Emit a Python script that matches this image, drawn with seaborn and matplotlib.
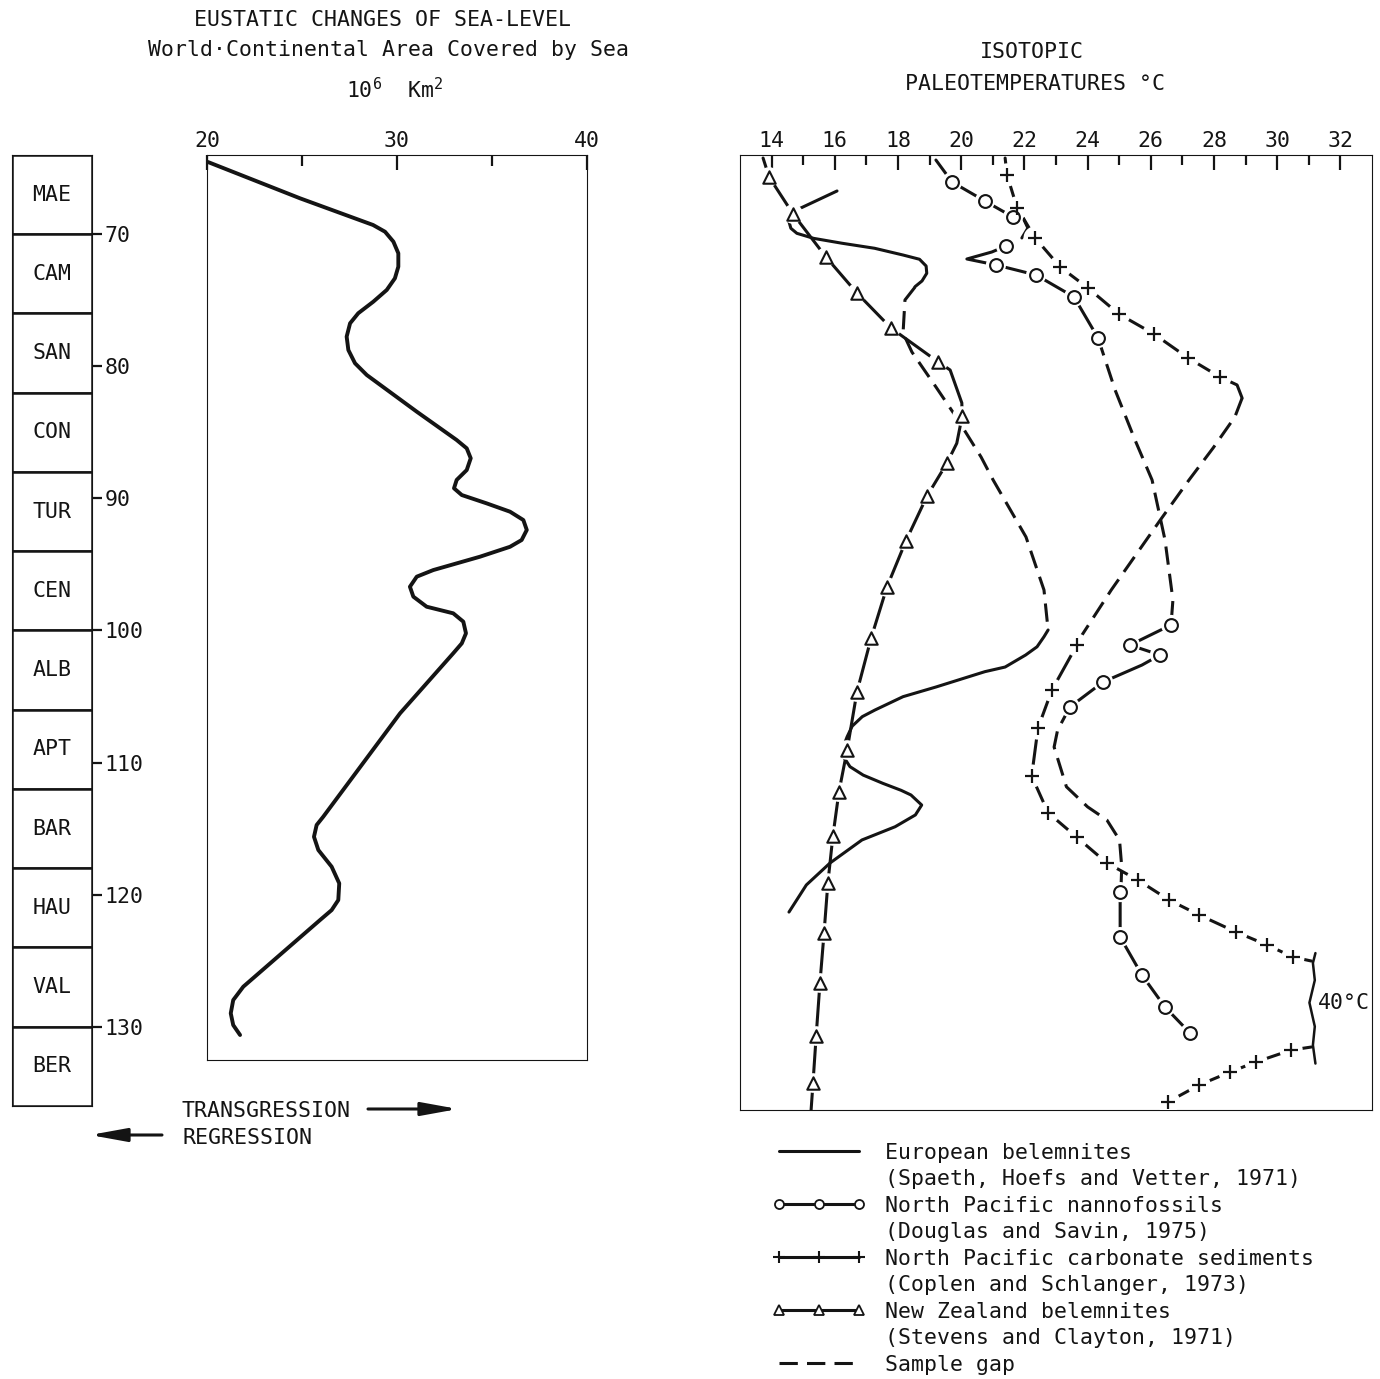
import matplotlib
matplotlib.use("Agg")
import matplotlib.pyplot as plt
from matplotlib.lines import Line2D
import seaborn as sns

# ---- stage column ----
stages = ["MAE", "CAM", "SAN", "CON", "TUR", "CEN", "ALB", "APT", "BAR", "HAU", "VAL", "BER"]
stage_top = [64, 70, 76, 82, 88, 94, 100, 106, 112, 118, 124, 130]
stage_len = 6
age_ticks = [70, 80, 90, 100, 110, 120, 130]

# ---- eustatic sea level (10^6 km2) vs age (Ma) ----
sea_area = [20.05, 24.89, 28.74, 29.37, 29.81, 30.07, 30.07, 29.89, 29.46, 28.75, 27.96,
            27.53, 27.35, 27.44, 27.79, 28.41, 31.04, 33.14, 33.67, 33.88, 33.67, 33.14,
            33.00, 33.41, 34.72, 35.95, 36.65, 36.83, 36.56, 35.95, 34.37, 31.91, 31.04,
            30.68, 30.86, 31.56, 32.96, 33.49, 33.63, 33.41, 32.96, 30.16, 26.12, 25.77,
            25.63, 25.86, 26.56, 26.96, 26.91, 26.56, 25.95, 21.91, 21.38, 21.25, 21.38,
            21.74]
sea_age = [64.56, 67.30, 69.32, 69.83, 70.58, 71.46, 72.47, 73.35, 74.23, 75.12, 75.99,
           76.75, 77.76, 78.77, 79.77, 80.66, 83.43, 85.57, 86.20, 86.95, 87.84, 88.59,
           89.22, 89.73, 90.36, 90.99, 91.62, 92.37, 93.13, 93.64, 94.39, 95.40, 95.90,
           96.66, 97.41, 98.17, 98.67, 99.30, 100.18, 100.94, 101.69, 106.23, 114.04, 114.67,
           115.56, 116.56, 117.82, 119.08, 120.34, 121.10, 121.85, 126.89, 127.90, 128.90, 129.79,
           130.54]

# ---- European belemnites (solid, with a sample gap) ----
eu1_T = [16.07, 14.68, 14.55, 14.61, 14.80, 15.33, 16.23, 17.26, 18.16, 18.68, 18.89, 18.91,
         18.76, 18.54]
eu1_age = [66.75, 68.31, 69.07, 69.57, 69.95, 70.33, 70.70, 71.08, 71.59, 71.91, 72.42, 72.97,
           73.55, 73.98]
eu_gap_T = [18.54, 18.22, 18.16, 18.44, 19.20, 19.84, 20.63, 21.01, 22.05, 22.62, 22.75]
eu_gap_age = [74.01, 74.99, 77.48, 78.92, 81.56, 83.83, 86.86, 88.59, 92.90, 96.91, 99.93]
eu2_T = [22.75, 22.62, 22.40, 22.04, 21.39, 20.75, 19.20, 18.16, 17.27, 16.87, 16.55, 16.39,
         16.23, 16.30, 16.48, 16.90, 17.52, 18.10, 18.41, 18.75, 18.55, 17.91, 16.86, 15.85,
         15.10, 14.55]
eu2_age = [99.93, 100.44, 101.20, 101.82, 102.73, 103.08, 104.24, 104.97, 105.98, 106.48,
           107.20, 108.00, 109.00, 109.60, 110.26, 110.90, 111.52, 112.05, 112.40, 113.16,
           113.91, 114.80, 115.80, 117.54, 119.20, 121.25]

# ---- North Pacific nannofossils (circles) ----
np1_T = [19.20, 19.71, 20.75, 21.64, 21.96, 22.11, 21.92]
np1_age = [64.41, 66.07, 67.51, 68.72, 68.79, 69.55, 70.30]
np1b_T = [21.42, 20.97, 20.18, 21.10, 22.37, 23.57, 24.33]
np1b_age = [70.91, 71.36, 71.89, 72.34, 73.10, 74.76, 77.86]
np_gap1_T = [24.33, 24.87, 25.50, 26.04, 26.45, 26.70, 26.64]
np_gap1_age = [77.86, 81.79, 85.57, 88.59, 93.13, 97.66, 99.55]
np2_T = [26.64, 25.34, 26.29, 25.72, 24.49, 23.44]
np2_age = [99.55, 101.07, 101.82, 102.58, 103.86, 105.75]
np_gap2_T = [23.44, 23.05, 22.94, 23.33, 24.00, 24.61, 25.01, 25.08, 25.06]
np_gap2_age = [105.75, 107.50, 108.78, 111.78, 113.30, 114.29, 115.80, 117.82, 119.20]
np3_T = [25.06, 25.03, 25.03, 25.72, 26.45, 27.24]
np3_age = [119.20, 119.74, 123.14, 126.01, 128.43, 130.39]
np_mark_T = [19.71, 20.75, 21.64, 21.42, 21.10, 22.37, 23.57, 24.33,
             26.64, 25.34, 26.29, 24.49, 23.44,
             25.03, 25.03, 25.72, 26.45, 27.24]
np_mark_age = [66.07, 67.51, 68.72, 70.91, 72.34, 73.10, 74.76, 77.86,
               99.55, 101.07, 101.82, 103.86, 105.75,
               119.74, 123.14, 126.01, 128.43, 130.39]

# ---- North Pacific carbonate sediments (plus) ----
cs1_T = [21.39, 21.45, 21.77, 22.34, 23.13, 24.01, 24.99, 26.10, 27.18, 28.19, 28.73, 28.89]
cs1_age = [64.26, 65.54, 68.03, 70.30, 72.49, 74.08, 76.05, 77.56, 79.37, 80.81, 81.41, 82.40]
cs_gap_T = [28.89, 28.66, 27.97, 27.21, 26.30, 24.75, 23.72, 23.66]
cs_gap_age = [82.40, 83.83, 86.18, 88.59, 91.62, 96.90, 100.69, 101.07]
cs2_T = [23.66, 22.87, 22.43, 22.23, 22.75, 23.66, 24.61, 25.59, 26.58, 27.53, 28.70, 29.68,
         30.50, 31.08]
cs2_age = [101.07, 104.47, 107.34, 110.97, 113.74, 115.60, 117.54, 118.83, 120.34, 121.47,
           122.76, 123.74, 124.65, 124.95]
cs3_T = [31.08, 30.44, 29.33, 28.51, 27.53, 26.56, 26.45]
cs3_age = [131.45, 131.68, 132.58, 133.34, 134.32, 135.58, 136.20]
cs_mark_T = cs1_T[1:10] + cs2_T[:-1] + cs3_T[1:6]
cs_mark_age = cs1_age[1:10] + cs2_age[:-1] + cs3_age[1:6]
brace_T = [31.21, 31.13, 31.19, 31.02, 31.19, 31.13, 31.21]
brace_age = [124.35, 125.10, 126.40, 128.10, 129.90, 131.30, 132.70]

# ---- New Zealand belemnites (triangles) ----
nz_T = [13.73, 13.92, 14.68, 15.72, 16.70, 17.78, 19.27, 19.65, 20.02, 20.03, 19.86, 19.55,
        18.92, 18.25, 17.65, 17.15, 16.70, 16.39, 16.13, 15.94, 15.78, 15.66, 15.53, 15.41,
        15.31, 15.25]
nz_age = [64.26, 65.69, 68.49, 71.74, 74.46, 77.11, 79.67, 80.28, 82.77, 83.76, 85.82, 87.31,
          89.80, 93.20, 96.68, 100.54, 104.62, 109.00, 112.18, 115.50, 119.06, 122.83, 126.61,
          130.62, 134.17, 136.21]
nz_mark = [1, 2, 3, 4, 5, 6, 9, 11, 12, 13, 14, 15, 16, 17, 18, 19, 20, 21, 22, 23, 24]

legend_labels = ["European belemnites", "(Spaeth, Hoefs and Vetter, 1971)",
                 "North Pacific nannofossils", "(Douglas and Savin, 1975)",
                 "North Pacific carbonate sediments", "(Coplen and Schlanger, 1973)",
                 "New Zealand belemnites", "(Stevens and Clayton, 1971)",
                 "Sample gap"]

ink = "#141414"
FS = 15.5
W, H = 1380, 1379

sns.set_style("ticks", rc={"axes.edgecolor": ink, "axes.linewidth": 1.8,
                           "xtick.color": ink, "ytick.color": ink, "text.color": ink})
plt.rcParams["font.family"] = ["DejaVu Sans Mono", "DejaVu Sans"]
plt.rcParams["mathtext.default"] = "regular"

fig = plt.figure(figsize=(13.8, 13.79), dpi=100)


def box(x0, y0, x1, y1):
    return [x0 / W, 1 - y1 / H, (x1 - x0) / W, (y1 - y0) / H]


ax_st = fig.add_axes(box(12, 155, 92, 1106))
ax_sl = fig.add_axes(box(207, 155, 587, 1060))
ax_t = fig.add_axes(box(740, 155, 1372, 1110))

# stage column
ax_st.barh([t + stage_len / 2 for t in stage_top], 1, height=stage_len, left=0,
           color="white", edgecolor=ink, linewidth=1.8)
for name, t in zip(stages, stage_top):
    ax_st.text(0.5, t + stage_len / 2, name, ha="center", va="center", fontsize=FS)
ax_st.set_xlim(0, 1)
ax_st.set_ylim(stage_top[-1] + stage_len, stage_top[0])
ax_st.set_xticks([])
ax_st.yaxis.tick_right()
ax_st.set_yticks(age_ticks)
ax_st.tick_params(axis="y", direction="out", length=7, width=1.6, pad=2, labelsize=FS)

# sea level panel
sns.lineplot(x=sea_area, y=sea_age, sort=False, estimator=None, ax=ax_sl, color=ink,
             linewidth=2.8, solid_joinstyle="round", solid_capstyle="round")
ax_sl.set_xlim(20, 40)
ax_sl.set_ylim(132.43, 64.03)
ax_sl.xaxis.tick_top()
ax_sl.set_xticks([20, 30, 40])
ax_sl.set_xticks([25, 35], minor=True)
ax_sl.tick_params(axis="x", which="both", direction="in", width=1.6, labelsize=FS, pad=3)
ax_sl.tick_params(axis="x", which="major", length=11)
ax_sl.tick_params(axis="x", which="minor", length=8)
ax_sl.set_yticks([])

# isotopic panel


def trace(T, age, dashed=False):
    sns.lineplot(x=T, y=age, sort=False, estimator=None, ax=ax_t, color=ink, linewidth=2.2,
                 linestyle=(0, (6, 3)) if dashed else "-", solid_joinstyle="round", zorder=2)


def marks(T, age, marker, size, halo):
    sns.scatterplot(x=T, y=age, ax=ax_t, marker="o", s=halo, color="white",
                    edgecolor="none", zorder=3)
    if marker == "+":
        sns.scatterplot(x=T, y=age, ax=ax_t, marker="+", s=size, color=ink,
                        linewidth=1.6, zorder=4)
    else:
        sns.scatterplot(x=T, y=age, ax=ax_t, marker=marker, s=size, color="white",
                        edgecolor=ink, linewidth=1.5, zorder=4)


trace(eu1_T, eu1_age)
trace(eu_gap_T, eu_gap_age, dashed=True)
trace(eu2_T, eu2_age)

trace(np1_T, np1_age)
trace(np1b_T, np1b_age)
trace(np_gap1_T, np_gap1_age, dashed=True)
trace(np2_T, np2_age)
trace(np_gap2_T, np_gap2_age, dashed=True)
trace(np3_T, np3_age)
marks(np_mark_T, np_mark_age, "o", 85, 210)

trace(cs1_T, cs1_age)
trace(cs_gap_T, cs_gap_age, dashed=True)
trace(cs2_T, cs2_age)
trace(cs3_T, cs3_age)
marks(cs_mark_T, cs_mark_age, "+", 100, 280)
sns.lineplot(x=brace_T, y=brace_age, sort=False, estimator=None, ax=ax_t, color=ink,
             linewidth=1.8)
ax_t.text(31.3, 128.1, "40°C", ha="left", va="center", fontsize=FS)

trace(nz_T, nz_age)
marks([nz_T[i] for i in nz_mark], [nz_age[i] for i in nz_mark], "^", 80, 200)

ax_t.set_xlim(13, 33)
ax_t.set_ylim(136.21, 64.03)
ax_t.xaxis.tick_top()
ax_t.set_xticks(range(14, 33, 2))
ax_t.set_xticks(range(15, 33, 2), minor=True)
ax_t.tick_params(axis="x", which="both", direction="in", width=1.6, labelsize=FS, pad=3)
ax_t.tick_params(axis="x", which="major", length=11)
ax_t.tick_params(axis="x", which="minor", length=7)
ax_t.set_yticks([])

# headings
fig.text(383 / W, 1 - 20 / H, "EUSTATIC CHANGES OF SEA-LEVEL", ha="center", va="center", fontsize=FS)
fig.text(388 / W, 1 - 50 / H, "World·Continental Area Covered by Sea", ha="center", va="center", fontsize=FS)
fig.text(395 / W, 1 - 90 / H, "10$^6$  Km$^2$", ha="center", va="center", fontsize=FS)
fig.text(1032 / W, 1 - 52 / H, "ISOTOPIC", ha="center", va="center", fontsize=FS)
fig.text(1035 / W, 1 - 84 / H, "PALEOTEMPERATURES °C", ha="center", va="center", fontsize=FS)

# transgression / regression
fig.text(182 / W, 1 - 1111 / H, "TRANSGRESSION", ha="left", va="center", fontsize=FS)
fig.text(182 / W, 1 - 1138 / H, "REGRESSION", ha="left", va="center", fontsize=FS)
arrow = dict(arrowstyle="-|>,head_length=1.1,head_width=0.2", color=ink, lw=2.2,
             mutation_scale=20, shrinkA=0, shrinkB=0)
ax_sl.annotate("", xy=(458 / W, 1 - 1109 / H), xytext=(368 / W, 1 - 1109 / H),
               xycoords="figure fraction", textcoords="figure fraction", arrowprops=arrow)
ax_sl.annotate("", xy=(90 / W, 1 - 1135 / H), xytext=(162 / W, 1 - 1135 / H),
               xycoords="figure fraction", textcoords="figure fraction", arrowprops=arrow)

# legend
blank = Line2D([], [], linestyle="none")
handles = [
    Line2D([], [], color=ink, lw=2.2),
    blank,
    Line2D([], [], color=ink, lw=2.2, marker="o", ms=6.5, mfc="white", mec=ink, mew=1.3),
    blank,
    Line2D([], [], color=ink, lw=2.2, marker="+", ms=9, mec=ink, mew=1.5),
    blank,
    Line2D([], [], color=ink, lw=2.2, marker="^", ms=6.5, mfc="white", mec=ink, mew=1.3),
    blank,
    Line2D([], [], color=ink, lw=2.2, ls=(0, (6, 3))),
]
fig.legend(handles, legend_labels, loc="upper left", bbox_to_anchor=(773 / W, 1 - 1143 / H),
           frameon=False, fontsize=FS, handlelength=4.3, handletextpad=0.9,
           labelspacing=0.3, borderpad=0, borderaxespad=0, numpoints=3)

fig.savefig("out.png", dpi=100)
